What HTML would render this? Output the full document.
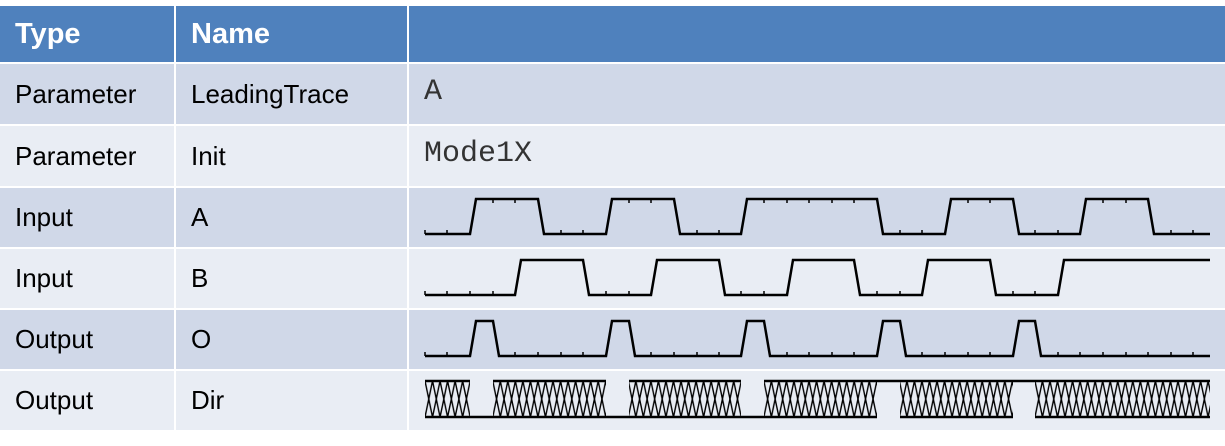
<!DOCTYPE html>
<html><head><meta charset="utf-8"><style>
body{margin:0;width:1225px;height:446px;background:#fff;position:relative;overflow:hidden;font-family:"Liberation Sans",sans-serif}
.c{position:absolute;box-sizing:border-box;display:flex;align-items:center;padding-left:15px;font-size:26px;color:#000}
.h{background:#4F81BD;color:#fff;font-weight:bold;font-size:29px}
.o{background:#D0D8E8}.e{background:#E9EDF4}
.m{font-family:"Liberation Mono",monospace;font-size:30px;color:#333;align-items:flex-start;padding-top:11px}
</style></head><body>
<div class="c h" style="left:0;top:6px;width:174px;height:56px">Type</div>
<div class="c h" style="left:176px;top:6px;width:231px;height:56px">Name</div>
<div class="c h" style="left:409px;top:6px;width:816px;height:56px"></div>

<div class="c o" style="left:0;top:64px;width:174px;height:60px">Parameter</div>
<div class="c o" style="left:176px;top:64px;width:231px;height:60px">LeadingTrace</div>
<div class="c o m" style="left:409px;top:64px;width:816px;height:60px">A</div>

<div class="c e" style="left:0;top:126px;width:174px;height:60px">Parameter</div>
<div class="c e" style="left:176px;top:126px;width:231px;height:60px">Init</div>
<div class="c e m" style="left:409px;top:126px;width:816px;height:60px">Mode1X</div>

<div class="c o" style="left:0;top:188px;width:174px;height:59px">Input</div>
<div class="c o" style="left:176px;top:188px;width:231px;height:59px">A</div>
<div class="c o" style="left:409px;top:188px;width:816px;height:59px"></div>

<div class="c e" style="left:0;top:249px;width:174px;height:59px">Input</div>
<div class="c e" style="left:176px;top:249px;width:231px;height:59px">B</div>
<div class="c e" style="left:409px;top:249px;width:816px;height:59px"></div>

<div class="c o" style="left:0;top:310px;width:174px;height:59px">Output</div>
<div class="c o" style="left:176px;top:310px;width:231px;height:59px">O</div>
<div class="c o" style="left:409px;top:310px;width:816px;height:59px"></div>

<div class="c e" style="left:0;top:371px;width:174px;height:59px">Output</div>
<div class="c e" style="left:176px;top:371px;width:231px;height:59px">Dir</div>
<div class="c e" style="left:409px;top:371px;width:816px;height:59px"></div>

<svg style="position:absolute;left:0;top:0" width="1225" height="446">
<defs>
<pattern id="hx" patternUnits="userSpaceOnUse" x="425" y="381" width="7.53" height="36">
<line x1="0" y1="0" x2="7.53" y2="36" stroke="#000" stroke-width="1.4"/>
<line x1="0" y1="36" x2="7.53" y2="0" stroke="#000" stroke-width="1.4"/>
</pattern>
</defs>
<g fill="none" stroke="#000" stroke-width="2.5" stroke-linejoin="miter">
<polyline points="425,234 470,234 476,199 538,199 544,234 606,234 612,199 674,199 680,234 741,234 747,199 877,199 883,234 945,234 951,199 1013,199 1019,234 1080,234 1086,199 1148,199 1154,234 1210,234"/>
<polyline points="425,295 515,295 521,260 583,260 589,295 651,295 657,260 719,260 725,295 787,295 793,260 854,260 860,295 922,295 928,260 990,260 996,295 1058,295 1064,260 1210,260"/>
<polyline points="425,356 470,356 476,321 493,321 499,356 606,356 612,321 629,321 635,356 741,356 747,321 764,321 770,356 877,356 883,321 900,321 906,356 1013,356 1019,321 1035,321 1041,356 1210,356"/>
</g>
<g fill="url(#hx)" stroke="none">
<rect x="425" y="381" width="45" height="36"/>
<rect x="493" y="381" width="113" height="36"/>
<rect x="629" y="381" width="112" height="36"/>
<rect x="764" y="381" width="113" height="36"/>
<rect x="900" y="381" width="113" height="36"/>
<rect x="1035" y="381" width="175" height="36"/>
</g>
<g stroke="#000" stroke-width="2.5">
<line x1="425" y1="381" x2="470" y2="381"/>
<line x1="493" y1="381" x2="606" y2="381"/>
<line x1="629" y1="381" x2="741" y2="381"/>
<line x1="764" y1="381" x2="1210" y2="381"/>
<line x1="425" y1="417" x2="877" y2="417"/>
<line x1="900" y1="417" x2="1013" y2="417"/>
<line x1="1035" y1="417" x2="1210" y2="417"/>
</g>
<g stroke="#000" stroke-width="1.5">
<line x1="425" y1="230" x2="425" y2="234"/><line x1="447" y1="230" x2="447" y2="234"/>
<line x1="561" y1="230" x2="561" y2="234"/><line x1="583" y1="230" x2="583" y2="234"/>
<line x1="697" y1="230" x2="697" y2="234"/><line x1="719" y1="230" x2="719" y2="234"/>
<line x1="900" y1="230" x2="900" y2="234"/><line x1="922" y1="230" x2="922" y2="234"/>
<line x1="1035" y1="230" x2="1035" y2="234"/><line x1="1058" y1="230" x2="1058" y2="234"/>
<line x1="1171" y1="230" x2="1171" y2="234"/><line x1="1193" y1="230" x2="1193" y2="234"/>
<line x1="493" y1="199" x2="493" y2="203"/><line x1="515" y1="199" x2="515" y2="203"/>
<line x1="629" y1="199" x2="629" y2="203"/><line x1="651" y1="199" x2="651" y2="203"/>
<line x1="764" y1="199" x2="764" y2="203"/><line x1="787" y1="199" x2="787" y2="203"/><line x1="809" y1="199" x2="809" y2="203"/><line x1="832" y1="199" x2="832" y2="203"/><line x1="854" y1="199" x2="854" y2="203"/>
<line x1="968" y1="199" x2="968" y2="203"/><line x1="990" y1="199" x2="990" y2="203"/>
<line x1="1103" y1="199" x2="1103" y2="203"/><line x1="1126" y1="199" x2="1126" y2="203"/>
<line x1="425" y1="291" x2="425" y2="295"/><line x1="447" y1="291" x2="447" y2="295"/><line x1="470" y1="291" x2="470" y2="295"/><line x1="493" y1="291" x2="493" y2="295"/>
<line x1="606" y1="291" x2="606" y2="295"/><line x1="629" y1="291" x2="629" y2="295"/>
<line x1="741" y1="291" x2="741" y2="295"/><line x1="764" y1="291" x2="764" y2="295"/>
<line x1="877" y1="291" x2="877" y2="295"/><line x1="900" y1="291" x2="900" y2="295"/>
<line x1="1013" y1="291" x2="1013" y2="295"/><line x1="1035" y1="291" x2="1035" y2="295"/>
<line x1="425" y1="352" x2="425" y2="356"/><line x1="447" y1="352" x2="447" y2="356"/>
<line x1="515" y1="352" x2="515" y2="356"/><line x1="538" y1="352" x2="538" y2="356"/><line x1="561" y1="352" x2="561" y2="356"/><line x1="583" y1="352" x2="583" y2="356"/>
<line x1="651" y1="352" x2="651" y2="356"/><line x1="674" y1="352" x2="674" y2="356"/><line x1="697" y1="352" x2="697" y2="356"/><line x1="719" y1="352" x2="719" y2="356"/>
<line x1="787" y1="352" x2="787" y2="356"/><line x1="809" y1="352" x2="809" y2="356"/><line x1="832" y1="352" x2="832" y2="356"/><line x1="854" y1="352" x2="854" y2="356"/>
<line x1="922" y1="352" x2="922" y2="356"/><line x1="945" y1="352" x2="945" y2="356"/><line x1="968" y1="352" x2="968" y2="356"/><line x1="990" y1="352" x2="990" y2="356"/>
<line x1="1058" y1="352" x2="1058" y2="356"/><line x1="1080" y1="352" x2="1080" y2="356"/><line x1="1103" y1="352" x2="1103" y2="356"/><line x1="1126" y1="352" x2="1126" y2="356"/><line x1="1148" y1="352" x2="1148" y2="356"/><line x1="1171" y1="352" x2="1171" y2="356"/><line x1="1193" y1="352" x2="1193" y2="356"/>
</g>
</svg>
</body></html>
